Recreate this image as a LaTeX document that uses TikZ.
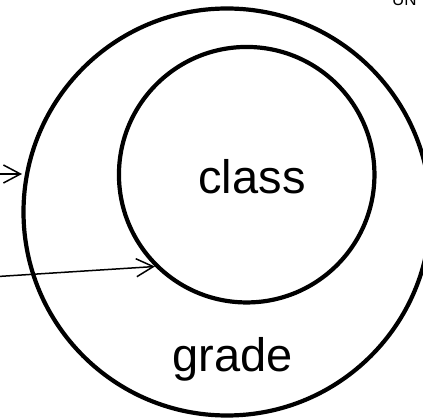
\documentclass[tikz,border=0pt]{standalone}
\usepackage{fontspec}
\setmainfont{Liberation Sans}
\usetikzlibrary{arrows.meta}
\begin{document}
\begin{tikzpicture}[x=1pt,y=-1pt,
  ring/.style={circle,draw=black,line width=4.2pt,inner sep=0pt},
  lbl/.style={font=\fontsize{47}{56}\selectfont,inner sep=0pt,anchor=base},
  conn/.style={draw=black,line width=1.5pt,-{Straight Barb[length=17pt,width=18pt,line width=1.5pt]}}]
\useasboundingbox (0,0) rectangle (423,419);
\node[ring,minimum size=407pt] (grade) at (227,212) {};
\node[ring,minimum size=255.5pt] (class) at (246.7,174.7) {};
\node[lbl] (classlbl) at (252,194) {class};
\node[lbl] (gradelbl) at (232.5,372) {grade};
\node[font=\fontsize{17}{20}\selectfont,inner sep=0pt,anchor=base west] (un) at (392,6) {UN};
\coordinate (s1) at (-2,174);
\coordinate (s2) at (-2,276.5);
\coordinate (t1) at (22,174);
\draw[conn] (s1) -- (t1);
\draw[conn] (s2) -- (class.225);
\end{tikzpicture}
\end{document}
